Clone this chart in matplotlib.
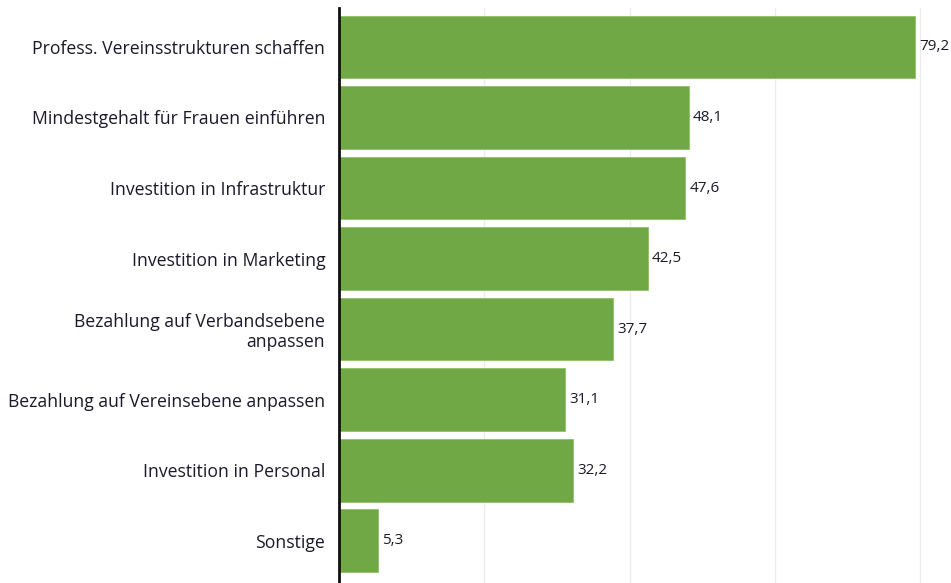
import matplotlib
matplotlib.use("Agg")
import matplotlib.pyplot as plt

# Massnahmen und Anteile (in %)
categories = [
    "Profess. Vereinsstrukturen schaffen",
    "Mindestgehalt für Frauen einführen",
    "Investition in Infrastruktur",
    "Investition in Marketing",
    "Bezahlung auf Verbandsebene\nanpassen",
    "Bezahlung auf Vereinsebene anpassen",
    "Investition in Personal",
    "Sonstige",
]
values = [79.2, 48.1, 47.6, 42.5, 37.7, 31.1, 32.2, 5.3]

plt.rcParams["font.family"] = ["Open Sans", "DejaVu Sans"]

fig = plt.figure(figsize=(9.51, 5.83), dpi=100)
ax = fig.add_axes([0.3565, 0.0, 0.6435, 0.986])

pos = range(len(categories))
bars = ax.barh(pos, values, height=0.89, color="#70a845", edgecolor="#8fc06a", linewidth=0.6, zorder=2)

for b, v in zip(bars, values):
    ax.annotate(f"{v:.1f}".replace(".", ","), xy=(b.get_width(), b.get_y() + b.get_height() / 2),
                xytext=(3, 0), textcoords="offset points", va="center", ha="left",
                fontsize=11, color="#1a1a2a")

ax.set_yticks(list(pos))
ax.set_yticklabels(categories, fontsize=12.7, color="#1a1a2a", linespacing=1.15)
ax.tick_params(axis="y", length=0, pad=10)
ax.set_ylim(7.6, -0.55)

ax.set_xlim(0, 84.2)
ax.set_xticks([20, 40, 60, 80])
ax.tick_params(axis="x", length=0, labelbottom=False)
ax.grid(axis="x", color="#ececec", linewidth=1, zorder=0)

for s in ["top", "right", "bottom"]:
    ax.spines[s].set_visible(False)
ax.spines["left"].set_linewidth(2)
ax.spines["left"].set_color("#111111")
ax.spines["left"].set_zorder(3)

fig.savefig("out.png", dpi=100)
